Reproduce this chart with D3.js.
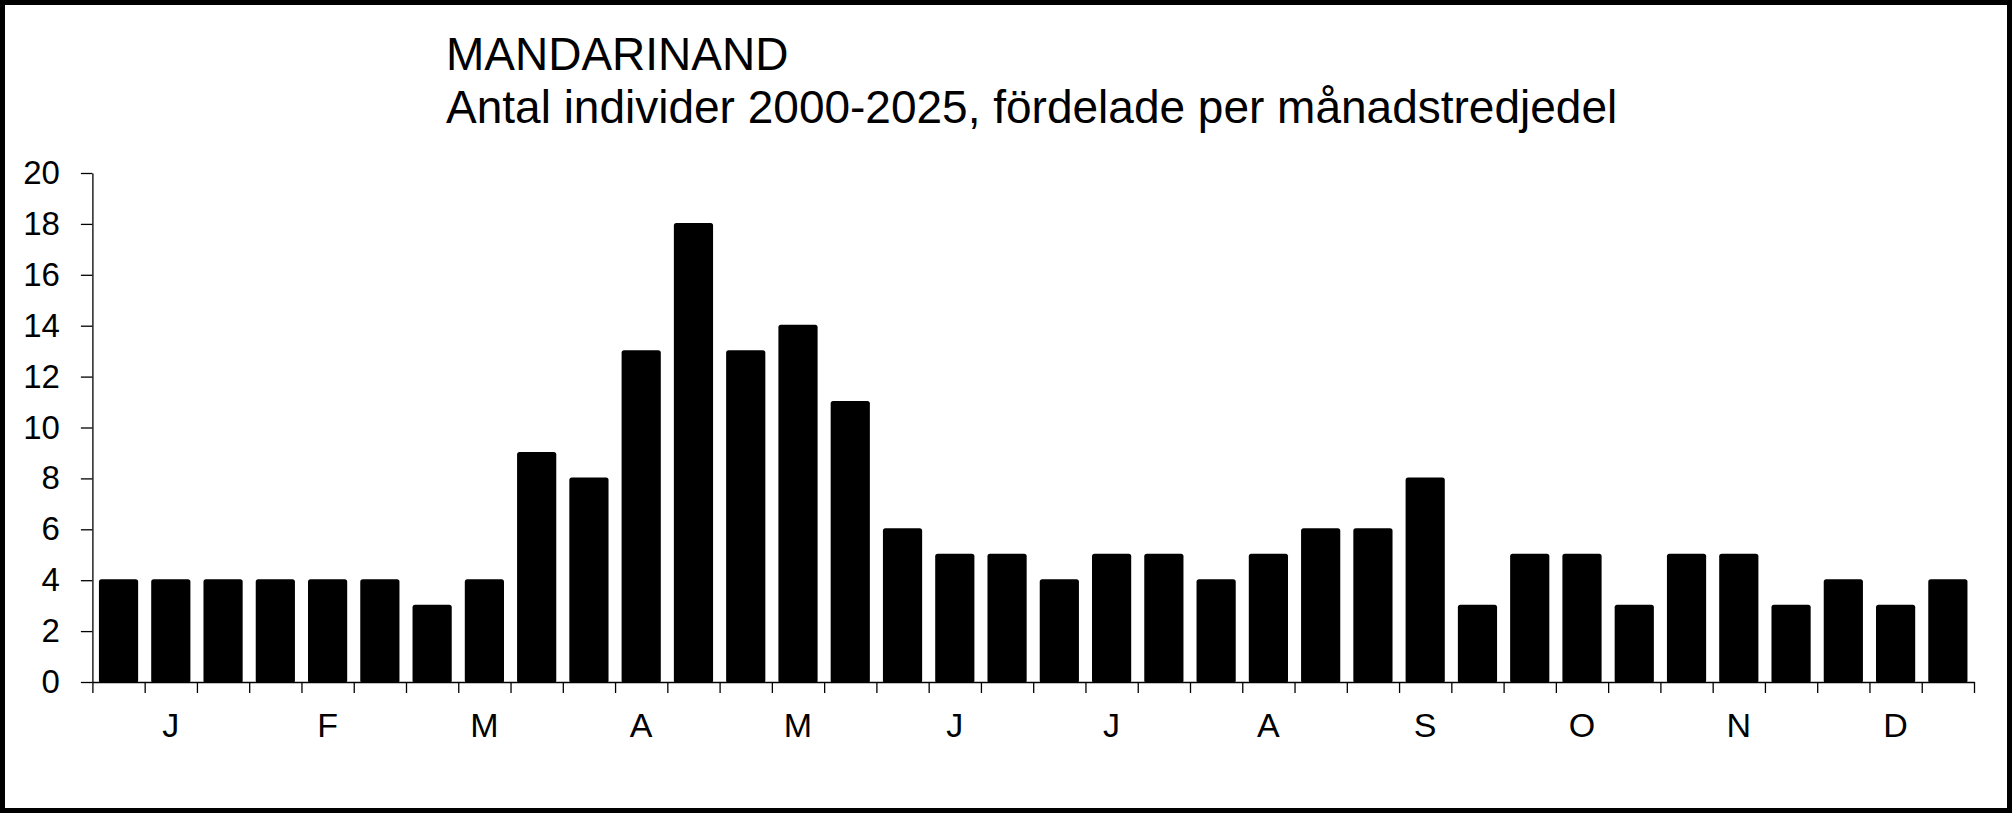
<!DOCTYPE html>
<html>
<head>
<meta charset="utf-8">
<script src="https://cdn.jsdelivr.net/npm/d3@7"></script>
<style>
  html, body { margin: 0; padding: 0; background: #fff; }
  svg { display: block; }
  text { font-family: "Liberation Sans", Arial, sans-serif; fill: #000; }
</style>
</head>
<body>
<div id="chart"></div>
<script>
const titleLines = ["MANDARINAND", "Antal individer 2000-2025, fördelade per månadstredjedel"];
const months = ["J", "F", "M", "A", "M", "J", "J", "A", "S", "O", "N", "D"];
const values = [4, 4, 4, 4, 4, 4, 3, 4, 9, 8, 13, 18, 13, 14, 11, 6, 5, 5,
                4, 5, 5, 4, 5, 6, 6, 8, 3, 5, 5, 3, 5, 5, 3, 4, 3, 4];
const yTicks = [0, 2, 4, 6, 8, 10, 12, 14, 16, 18, 20];

(function () {
const W = 2012, H = 813;
const mLeft = 92.4, mRight = 1974, mTop = 173, mBottom = 682;

const svg = d3.select("#chart").append("svg").attr("width", W).attr("height", H);

svg.append("rect").attr("x", 2.5).attr("y", 2.5).attr("width", W - 5).attr("height", H - 5)
  .attr("fill", "#fff").attr("stroke", "#000").attr("stroke-width", 5);

const keys = values.map((v, i) => i);
const x = d3.scaleBand().domain(keys).range([mLeft, mRight]).paddingInner(0.25).paddingOuter(0.125);
const xb = d3.scaleLinear().domain([0, values.length]).range([mLeft, mRight]);
const y = d3.scaleLinear().domain([0, 20]).range([mBottom, mTop]);

// bars
svg.append("g").selectAll("rect").data(values).join("rect")
  .attr("x", (d, i) => x(i))
  .attr("width", x.bandwidth())
  .attr("y", d => y(d) - 1)
  .attr("height", d => mBottom - y(d) + 2)
  .attr("rx", 2.5)
  .attr("fill", "#000");

// y axis
const yAxis = d3.axisLeft(y).tickValues(yTicks).tickSize(11.5).tickPadding(21).tickSizeOuter(0);
const gy = svg.append("g").attr("transform", `translate(${mLeft},0)`).call(yAxis);
gy.select(".domain").attr("stroke", "#000").attr("stroke-width", 1.3);
gy.selectAll(".tick line").attr("stroke", "#000").attr("stroke-width", 1.3);
gy.selectAll(".tick text").attr("font-size", 33).attr("font-family", "Liberation Sans, Arial, sans-serif").attr("fill", "#000");

// x axis with boundary ticks
const xAxis = d3.axisBottom(xb).tickValues(d3.range(0, values.length + 1)).tickSize(11).tickFormat("").tickSizeOuter(0);
const gx = svg.append("g").attr("transform", `translate(0,${mBottom})`).call(xAxis);
gx.select(".domain").attr("stroke", "#000").attr("stroke-width", 1.3);
gx.selectAll(".tick line").attr("stroke", "#000").attr("stroke-width", 1.3);

// month labels
const xm = d3.scaleBand().domain(d3.range(months.length)).range([mLeft, mRight]);
svg.append("g").selectAll("text").data(months).join("text")
  .attr("x", (d, i) => xm(i) + xm.bandwidth() / 2)
  .attr("y", 737)
  .attr("text-anchor", "middle")
  .attr("font-size", 34)
  .text(d => d);

// title
svg.append("g").selectAll("text").data(titleLines).join("text")
  .attr("x", 446)
  .attr("y", (d, i) => 70 + i * 53)
  .attr("font-size", 46)
  .text(d => d);
})();
</script>
</body>
</html>
